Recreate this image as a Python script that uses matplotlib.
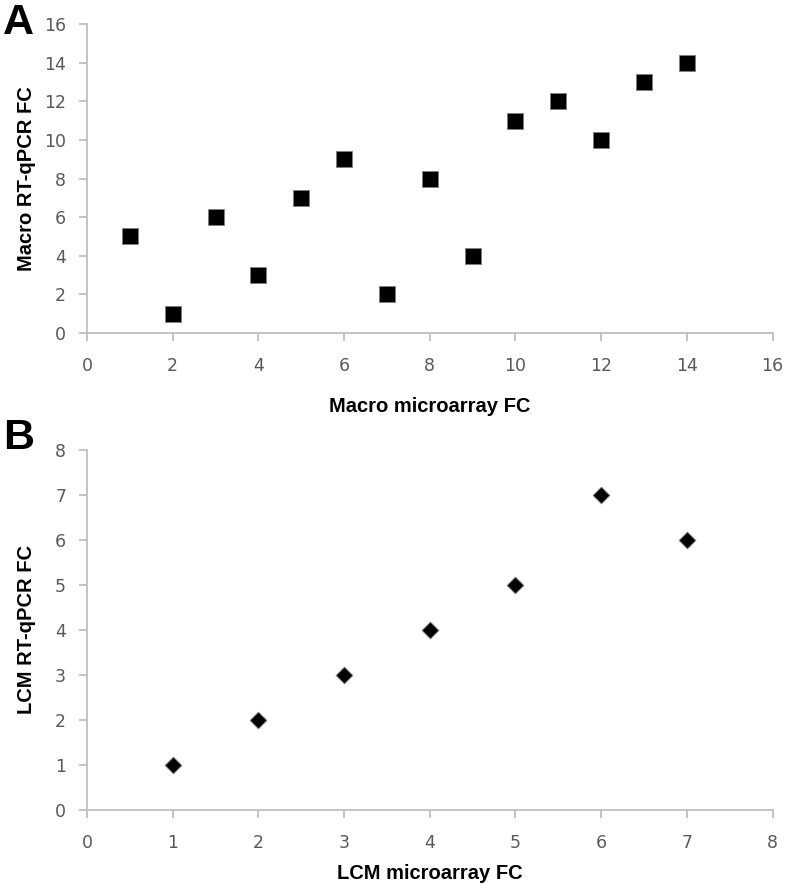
import matplotlib.pyplot as plt

# Panel A: macrodissected samples
macro_microarray = [1, 2, 3, 4, 5, 6, 7, 8, 9, 10, 11, 12, 13, 14]
macro_rtqpcr = [5, 1, 6, 3, 7, 9, 2, 8, 4, 11, 12, 10, 13, 14]

# Panel B: LCM samples
lcm_microarray = [1, 2, 3, 4, 5, 6, 7]
lcm_rtqpcr = [1, 2, 3, 4, 5, 7, 6]

axis_gray = '#bfbfbf'
tick_gray = '#595959'

fig = plt.figure(figsize=(7.88, 8.84), dpi=100)
ax_a = fig.add_axes([87 / 788, 1 - 333 / 884, (772.5 - 87) / 788, (333 - 24) / 884])
ax_b = fig.add_axes([87 / 788, 1 - 810 / 884, (772.5 - 87) / 788, (810 - 450) / 884])


def style_axis(ax, xmax, ymax, step):
    ax.set_xlim(0, xmax)
    ax.set_ylim(0, ymax)
    ax.set_xticks(range(0, xmax + 1, step))
    ax.set_yticks(range(0, ymax + 1, step))
    for side in ['top', 'right']:
        ax.spines[side].set_visible(False)
    for side in ['left', 'bottom']:
        ax.spines[side].set_color(axis_gray)
        ax.spines[side].set_linewidth(1.3)
    ax.tick_params(direction='out', length=6, width=1.3, color=axis_gray,
                   labelcolor=tick_gray, labelsize=12.5, pad=9)
    ax.tick_params(axis='x', pad=11)
    for lbl in ax.get_xticklabels() + ax.get_yticklabels():
        lbl.set_family('DejaVu Sans')


style_axis(ax_a, 16, 16, 2)
ax_a.scatter(macro_microarray, macro_rtqpcr, marker='s', s=130, color='black',
             edgecolors='#7f7f7f', linewidths=0.6, zorder=3, clip_on=False)
ax_a.set_xlabel('Macro microarray FC', fontsize=14.5, fontweight='bold',
                family='Liberation Sans', labelpad=16)
ax_a.set_ylabel('Macro RT-qPCR FC', fontsize=14.5, fontweight='bold',
                family='Liberation Sans', labelpad=6)

style_axis(ax_b, 8, 8, 1)
ax_b.scatter(lcm_microarray, lcm_rtqpcr, marker='D', s=75, color='black',
             edgecolors='#9a9a9a', linewidths=0.6, zorder=3, clip_on=False)
ax_b.set_xlabel('LCM microarray FC', fontsize=14.5, fontweight='bold',
                family='Liberation Sans', labelpad=9)
ax_b.set_ylabel('LCM RT-qPCR FC', fontsize=14.5, fontweight='bold',
                family='Liberation Sans', labelpad=14)

fig.text(3 / 788, 1 - 3 / 884, 'A', fontsize=31, fontweight='bold',
         family='Liberation Sans', va='top', ha='left')
fig.text(3 / 788, 1 - 418 / 884, 'B', fontsize=31, fontweight='bold',
         family='Liberation Sans', va='top', ha='left')

fig.savefig('out.png', dpi=100)
